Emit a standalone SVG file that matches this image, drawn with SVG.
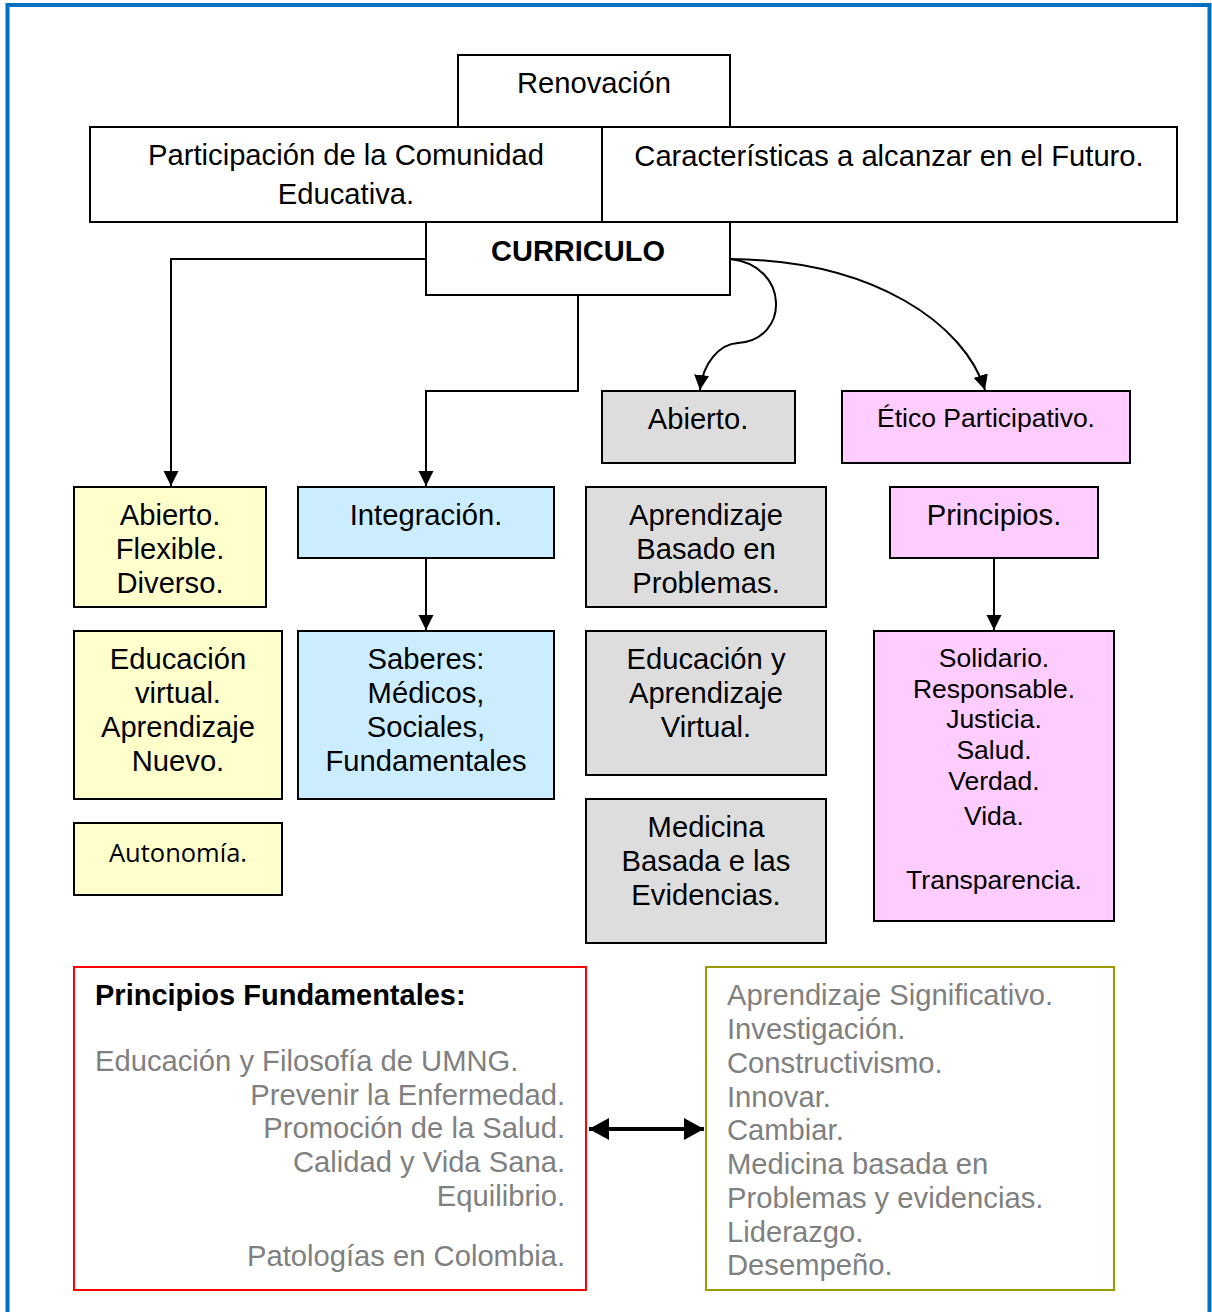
<svg xmlns="http://www.w3.org/2000/svg" width="1212" height="1312" viewBox="0 0 1212 1312">
<defs>
<marker id="ah" markerUnits="userSpaceOnUse" markerWidth="16" markerHeight="16" refX="15" refY="7.5" orient="auto"><path d="M0,0 L15,7.5 L0,15 z" fill="#000"/></marker>
<marker id="big" markerUnits="userSpaceOnUse" markerWidth="24" markerHeight="24" refX="20" refY="11" orient="auto-start-reverse"><path d="M0,0 L20,11 L0,22 z" fill="#000"/></marker>
</defs>
<style>
.b{stroke:#000;stroke-width:2}
.w{fill:#fff}.y{fill:#FFFFCC}.u{fill:#CCECFF}.g{fill:#DDDDDD}.p{fill:#FFCCFF}
text{font-family:"Liberation Sans",Arial,sans-serif;font-size:29.2px;fill:#000}
.c{text-anchor:middle}
.s{font-size:26.5px}
.gr{fill:#808080}
.r{text-anchor:end}
.ln{fill:none;stroke:#000;stroke-width:2}
</style>
<rect x="7.5" y="5" width="1202" height="1330" fill="none" stroke="#0070C0" stroke-width="4"/>

<g id="renovacion"><rect class="b w" x="458" y="55" width="272" height="72"/><text class="c" x="594" y="93">Renovación</text></g>
<g id="participacion"><rect class="b w" x="90" y="127" width="512" height="95"/><text class="c" x="346" y="165">Participación de la Comunidad</text><text class="c" x="346" y="204">Educativa.</text></g>
<g id="caracteristicas"><rect class="b w" x="602" y="127" width="575" height="95"/><text class="c" x="889" y="166">Características a alcanzar en el Futuro.</text></g>
<g id="curriculo"><rect class="b w" x="426" y="222" width="304" height="73"/><text class="c" x="578" y="261" font-weight="bold" style="font-size:29px">CURRICULO</text></g>

<g id="connectors">
<path class="ln" d="M426,259 H171 V486" marker-end="url(#ah)"/>
<path class="ln" d="M578,295 V391 H426 V486" marker-end="url(#ah)"/>
<path class="ln" d="M730,259 C790,265 790,340 738,343 C720,344 703,362 700,390" marker-end="url(#ah)"/>
<path class="ln" d="M730,259 C875,260 965,325 985,390" marker-end="url(#ah)"/>
<path class="ln" d="M426,558 V630" marker-end="url(#ah)"/>
<path class="ln" d="M994,558 V630" marker-end="url(#ah)"/>
<path d="M589,1129 H704" stroke="#000" stroke-width="4" fill="none" marker-start="url(#big)" marker-end="url(#big)"/>
</g>

<g id="abierto-gris"><rect class="b g" x="602" y="391" width="193" height="72"/><text class="c" x="698" y="429">Abierto.</text></g>
<g id="etico"><rect class="b p" x="842" y="391" width="288" height="72"/><text class="c s" x="986" y="427">Ético Participativo.</text></g>

<g id="abierto-flexible"><rect class="b y" x="74" y="487" width="192" height="120"/><text class="c" x="170" y="525">Abierto.</text><text class="c" x="170" y="559">Flexible.</text><text class="c" x="170" y="593">Diverso.</text></g>
<g id="integracion"><rect class="b u" x="298" y="487" width="256" height="71"/><text class="c" x="426" y="525">Integración.</text></g>
<g id="abp"><rect class="b g" x="586" y="487" width="240" height="120"/><text class="c" x="706" y="525">Aprendizaje</text><text class="c" x="706" y="559">Basado en</text><text class="c" x="706" y="593">Problemas.</text></g>
<g id="principios"><rect class="b p" x="890" y="487" width="208" height="71"/><text class="c" x="994" y="525">Principios.</text></g>

<g id="educacion-virtual"><rect class="b y" x="74" y="631" width="208" height="168"/><text class="c" x="178" y="669">Educación</text><text class="c" x="178" y="703">virtual.</text><text class="c" x="178" y="737">Aprendizaje</text><text class="c" x="178" y="771">Nuevo.</text></g>
<g id="saberes"><rect class="b u" x="298" y="631" width="256" height="168"/><text class="c" x="426" y="669">Saberes:</text><text class="c" x="426" y="703">Médicos,</text><text class="c" x="426" y="737">Sociales,</text><text class="c" x="426" y="771">Fundamentales</text></g>
<g id="educacion-aprendizaje"><rect class="b g" x="586" y="631" width="240" height="144"/><text class="c" x="706" y="669">Educación y</text><text class="c" x="706" y="703">Aprendizaje</text><text class="c" x="706" y="737">Virtual.</text></g>
<g id="valores"><rect class="b p" x="874" y="631" width="240" height="290"/>
<text class="c s" x="994" y="667">Solidario.</text><text class="c s" x="994" y="698">Responsable.</text><text class="c s" x="994" y="728">Justicia.</text><text class="c s" x="994" y="759">Salud.</text><text class="c s" x="994" y="790">Verdad.</text><text class="c s" x="994" y="825">Vida.</text><text class="c s" x="994" y="889">Transparencia.</text></g>

<g id="autonomia"><rect class="b y" x="74" y="823" width="208" height="72"/><text class="c" x="178" y="862" style="font-family:'Open Sans','Noto Sans',sans-serif;font-size:25.5px">Autonomía.</text></g>
<g id="medicina"><rect class="b g" x="586" y="799" width="240" height="144"/><text class="c" x="706" y="837">Medicina</text><text class="c" x="706" y="871">Basada e las</text><text class="c" x="706" y="905">Evidencias.</text></g>

<g id="principios-fundamentales"><rect x="74" y="967" width="512" height="323" fill="#fff" stroke="#FF0000" stroke-width="2"/>
<text x="95" y="1005" font-weight="bold" style="font-size:29px">Principios Fundamentales:</text>
<text class="gr" x="95" y="1071">Educación y Filosofía de UMNG.</text>
<text class="gr r" x="565" y="1105">Prevenir la Enfermedad.</text>
<text class="gr r" x="565" y="1138">Promoción de la Salud.</text>
<text class="gr r" x="565" y="1172">Calidad y Vida Sana.</text>
<text class="gr r" x="565" y="1206">Equilibrio.</text>
<text class="gr r" x="565" y="1266">Patologías en Colombia.</text></g>

<g id="aprendizaje-significativo"><rect x="706" y="967" width="408" height="323" fill="#fff" stroke="#999900" stroke-width="2"/>
<text class="gr" x="727" y="1005">Aprendizaje Significativo.</text>
<text class="gr" x="727" y="1039">Investigación.</text>
<text class="gr" x="727" y="1073">Constructivismo.</text>
<text class="gr" x="727" y="1107">Innovar.</text>
<text class="gr" x="727" y="1140">Cambiar.</text>
<text class="gr" x="727" y="1174">Medicina basada en</text>
<text class="gr" x="727" y="1208">Problemas y evidencias.</text>
<text class="gr" x="727" y="1242">Liderazgo.</text>
<text class="gr" x="727" y="1275">Desempeño.</text></g>
</svg>
